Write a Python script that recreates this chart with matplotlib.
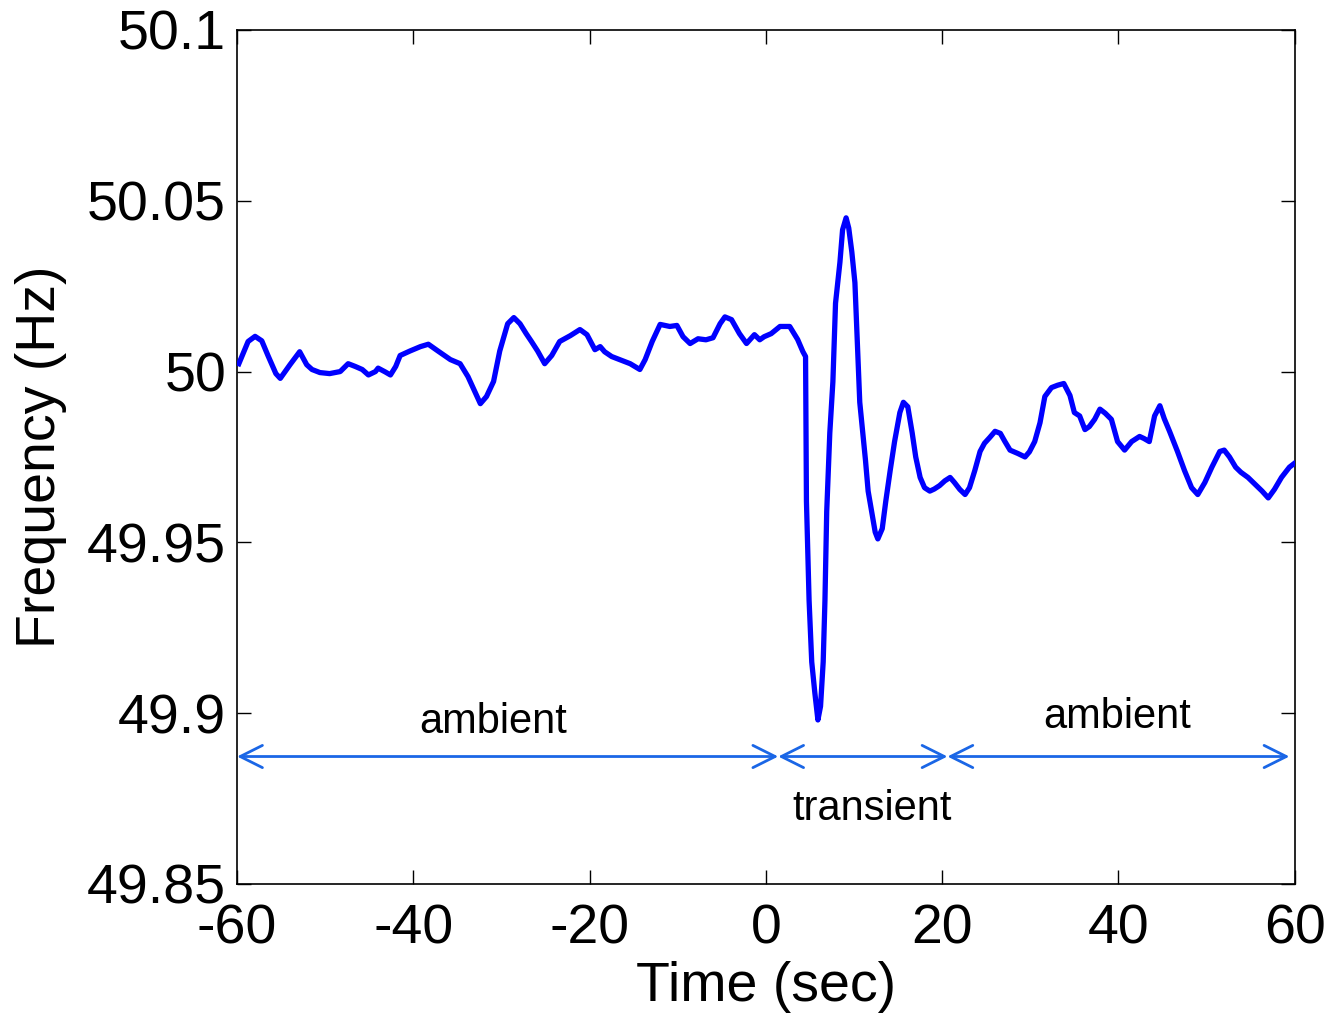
import matplotlib
matplotlib.use("Agg")
from matplotlib import pyplot as plt

# frequency trace (time in s, frequency in Hz)
time_s = [
    -59.8, -58.75, -57.96, -57.2, -56.5, -55.6, -55.1, -54.0, -52.9, -52.1, -51.5,
    -50.6, -49.5, -48.3, -47.4, -46.6, -45.8, -45.1, -44.3, -44.0, -43.2, -42.6,
    -42.0, -41.5, -40.4, -39.2, -38.3, -37.2, -35.8, -34.7, -33.8, -33.0, -32.4,
    -31.7, -30.9, -30.2, -29.3, -28.6, -27.9, -27.2, -26.6, -25.9, -25.1, -24.3,
    -23.4, -22.2, -21.1, -20.3, -19.4, -18.8, -18.3, -17.5, -16.6, -15.4, -14.3,
    -13.7, -12.9, -12.0, -10.9, -10.1, -9.4, -8.6, -7.7, -6.8, -6.0, -5.2, -4.65,
    -3.9, -3.0, -2.2, -1.3, -0.7, -0.2, 0.6, 1.6, 2.7, 3.6, 4.2, 4.5, 4.6, 4.9,
    5.0, 5.2, 5.55, 5.9, 6.2, 6.5, 6.7, 6.9, 7.25, 7.6, 7.9, 8.4, 8.7, 9.1, 9.4,
    9.75, 10.1, 10.4, 10.65, 11.0, 11.3, 11.6, 12.0, 12.4, 12.7, 13.2, 13.6, 14.1,
    14.6, 15.2, 15.6, 16.1, 16.6, 17.0, 17.5, 18.0, 18.6, 19.1, 19.7, 20.3, 20.9,
    21.4, 22.0, 22.6, 23.1, 23.7, 24.3, 24.8, 25.4, 26.0, 26.6, 27.1, 27.7, 28.6,
    29.4, 29.9, 30.5, 31.1, 31.65, 32.4, 33.1, 33.8, 34.5, 35.0, 35.6, 36.2, 36.7,
    37.3, 37.9, 38.5, 39.2, 39.9, 40.7, 41.5, 42.4, 42.9, 43.5, 44.1, 44.7, 45.2,
    45.8, 46.7, 47.5, 48.3, 49.0, 49.8, 50.6, 51.5, 52.0, 52.6, 53.3, 53.9, 54.7,
    55.5, 56.3, 57.0, 57.7, 58.5, 59.4, 59.9,
]
freq_hz = [
    50.0023, 50.0088, 50.0103, 50.0090, 50.0047, 49.9994, 49.9980, 50.0020, 50.0058,
    50.0020, 50.0006, 49.9997, 49.9994, 50.0000, 50.0023, 50.0015, 50.0006, 49.9990,
    50.0000, 50.0010, 49.9999, 49.9990, 50.0015, 50.0047, 50.0060, 50.0073, 50.0080,
    50.0060, 50.0035, 50.0023, 49.9985, 49.9940, 49.9906, 49.9927, 49.9971, 50.0060,
    50.0140, 50.0158, 50.0140, 50.0111, 50.0088, 50.0060, 50.0023, 50.0047, 50.0088,
    50.0105, 50.0123, 50.0108, 50.0064, 50.0073, 50.0058, 50.0044, 50.0035, 50.0023,
    50.0006, 50.0035, 50.0088, 50.0138, 50.0132, 50.0135, 50.0102, 50.0082, 50.0096,
    50.0093, 50.0099, 50.0140, 50.0160, 50.0152, 50.0111, 50.0082, 50.0108, 50.0093,
    50.0102, 50.0111, 50.0132, 50.0132, 50.0094, 50.0058, 50.0044, 49.9620, 49.9330,
    49.9270, 49.9150, 49.9060, 49.8980, 49.9020, 49.9150, 49.9330, 49.9590, 49.9820,
    49.9970, 50.0200, 50.0320, 50.0415, 50.0450, 50.0420, 50.0350, 50.0260, 50.0073,
    49.9910, 49.9820, 49.9740, 49.9650, 49.9590, 49.9530, 49.9510, 49.9540, 49.9620,
    49.9710, 49.9795, 49.9880, 49.9910, 49.9897, 49.9820, 49.9750, 49.9690, 49.9660,
    49.9650, 49.9656, 49.9666, 49.9680, 49.9690, 49.9675, 49.9655, 49.9640, 49.9660,
    49.9710, 49.9766, 49.9790, 49.9807, 49.9825, 49.9819, 49.9796, 49.9770, 49.9760,
    49.9750, 49.9765, 49.9795, 49.9850, 49.9927, 49.9953, 49.9960, 49.9965, 49.9930,
    49.9880, 49.9870, 49.9830, 49.9839, 49.9860, 49.9890, 49.9878, 49.9860, 49.9795,
    49.9770, 49.9795, 49.9810, 49.9804, 49.9795, 49.9870, 49.9900, 49.9862, 49.9825,
    49.9766, 49.9710, 49.9660, 49.9640, 49.9675, 49.9720, 49.9766, 49.9770, 49.9750,
    49.9720, 49.9705, 49.9690, 49.9670, 49.9650, 49.9630, 49.9655, 49.9690, 49.9720,
    49.9730,
]

# phases marked with double arrows below the trace
phase_names = ["ambient", "transient", "ambient"]
phase_edges = [-60, 1.4, 20.6, 59.4]
phase_label_x = [-31.0, 12.1, 39.8]
phase_label_y = [49.8975, 49.8720, 49.8990]
arrow_y = 49.8873

xticks = [-60, -40, -20, 0, 20, 40, 60]
yticks = [49.85, 49.9, 49.95, 50, 50.05, 50.1]
ytick_labels = ["49.85", "49.9", "49.95", "50", "50.05", "50.1"]

plt.rcParams['font.family'] = ['Liberation Sans', 'DejaVu Sans']

fig = plt.figure(figsize=(13.32, 10.16), dpi=100)
ax = fig.add_axes([0.178, 0.130, 0.794, 0.8405])

ax.plot(time_s, freq_hz, color='#0000ff', lw=3.8, zorder=3)

for i in range(len(phase_names)):
    ax.annotate('', xy=(phase_edges[i], arrow_y), xytext=(phase_edges[i + 1], arrow_y),
                arrowprops=dict(arrowstyle='<->', color='#1a66e6', lw=2,
                                mutation_scale=40, shrinkA=0, shrinkB=0))
    ax.text(phase_label_x[i], phase_label_y[i], phase_names[i], fontsize=30,
            ha='center', va='center')

ax.set_xlim(-60, 60)
ax.set_ylim(49.85, 50.1)
ax.set_xticks(xticks)
ax.set_xticklabels([str(t) for t in xticks])
ax.set_yticks(yticks)
ax.set_yticklabels(ytick_labels)
ax.tick_params(direction='in', top=True, right=True, length=10, width=1,
               labelsize=40)
ax.tick_params(axis='x', pad=14)
ax.tick_params(axis='y', pad=8)
for s in ax.spines.values():
    s.set_linewidth(1.2)

ax.set_xlabel('Time (sec)', fontsize=40, labelpad=4)
ax.set_ylabel('Frequency (Hz)', fontsize=40, labelpad=14)

fig.savefig('out.png', dpi=100)
